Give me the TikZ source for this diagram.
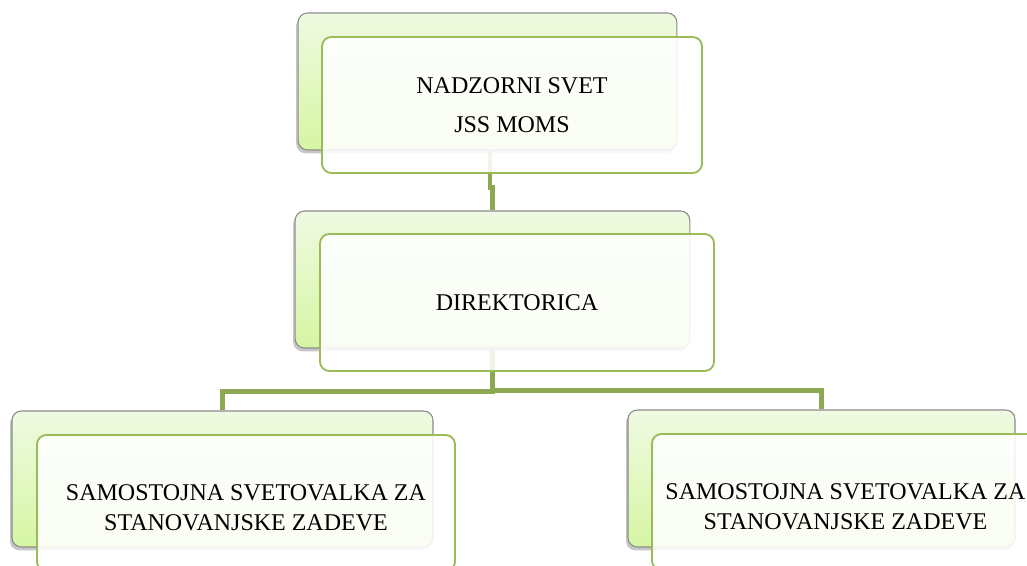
\documentclass[tikz,border=0pt]{standalone}
\usepackage{fontspec}
\setmainfont{Liberation Serif}
\usetikzlibrary{shadows,backgrounds}
\definecolor{linkgreen}{RGB}{140,168,82}
\definecolor{framegreen}{RGB}{155,187,89}
\definecolor{palegreen}{RGB}{239,250,226}
\definecolor{limegreen}{RGB}{214,246,163}
\begin{document}
\begin{tikzpicture}[x=0.75pt,y=-0.75pt,
    backbox/.style={rectangle,rounded corners=7pt,draw=gray!90,line width=0.8pt,
      top color=palegreen,bottom color=limegreen,inner sep=0pt,
      drop shadow={shadow xshift=-1.5pt,shadow yshift=-2.5pt,opacity=0.45}},
    frontbox/.style={rectangle,rounded corners=7pt,draw=framegreen,line width=1.4pt,
      fill=white,fill opacity=0.88,text opacity=1,inner sep=0pt,align=center,
      font=\fontsize{18}{29}\selectfont},
    link/.style={draw=linkgreen,line width=3.6pt}]
    \useasboundingbox (0,0) rectangle (1027,566);
    \node[backbox,minimum width=284pt,minimum height=102.75pt] (nsback) at (487.5,81.5) {};
    \node[frontbox,minimum width=285pt,minimum height=102pt] (ns) at (512,105) {NADZORNI SVET\\JSS MOMS};
    \node[backbox,minimum width=296pt,minimum height=102.75pt] (dirback) at (492.5,279.5) {};
    \node[frontbox,minimum width=295.5pt,minimum height=102.75pt] (dir) at (517,302.5) {DIREKTORICA};
    \node[backbox,minimum width=315.75pt,minimum height=102pt] (svlback) at (222.5,479) {};
    \node[frontbox,minimum width=313.5pt,minimum height=102pt,font=\fontsize{18}{22.5}\selectfont] (svl) at (246,503)
        {\raisebox{-4.5pt}[\height][\depth]{\begin{tabular}{@{}c@{}}SAMOSTOJNA SVETOVALKA ZA\\STANOVANJSKE ZADEVE\end{tabular}}};
    \node[backbox,minimum width=290.25pt,minimum height=102.75pt] (svrback) at (821.5,478.5) {};
    \node[frontbox,minimum width=290.25pt,minimum height=102pt,font=\fontsize{18}{22.5}\selectfont] (svr) at (845.5,502)
        {\raisebox{-4.5pt}[\height][\depth]{\begin{tabular}{@{}c@{}}SAMOSTOJNA SVETOVALKA ZA\\STANOVANJSKE ZADEVE\end{tabular}}};
    \begin{pgfonlayer}{background}
        \draw[link] (nsback.south) ++(2.5,0) -- ++(0,37) -| (dirback.north);
        \draw[link] (dirback.south) -- ++(0,43) -| (svlback.north);
        \draw[link] (dirback.south) -- ++(0,42) -| (svrback.north);
    \end{pgfonlayer}
\end{tikzpicture}
\end{document}
